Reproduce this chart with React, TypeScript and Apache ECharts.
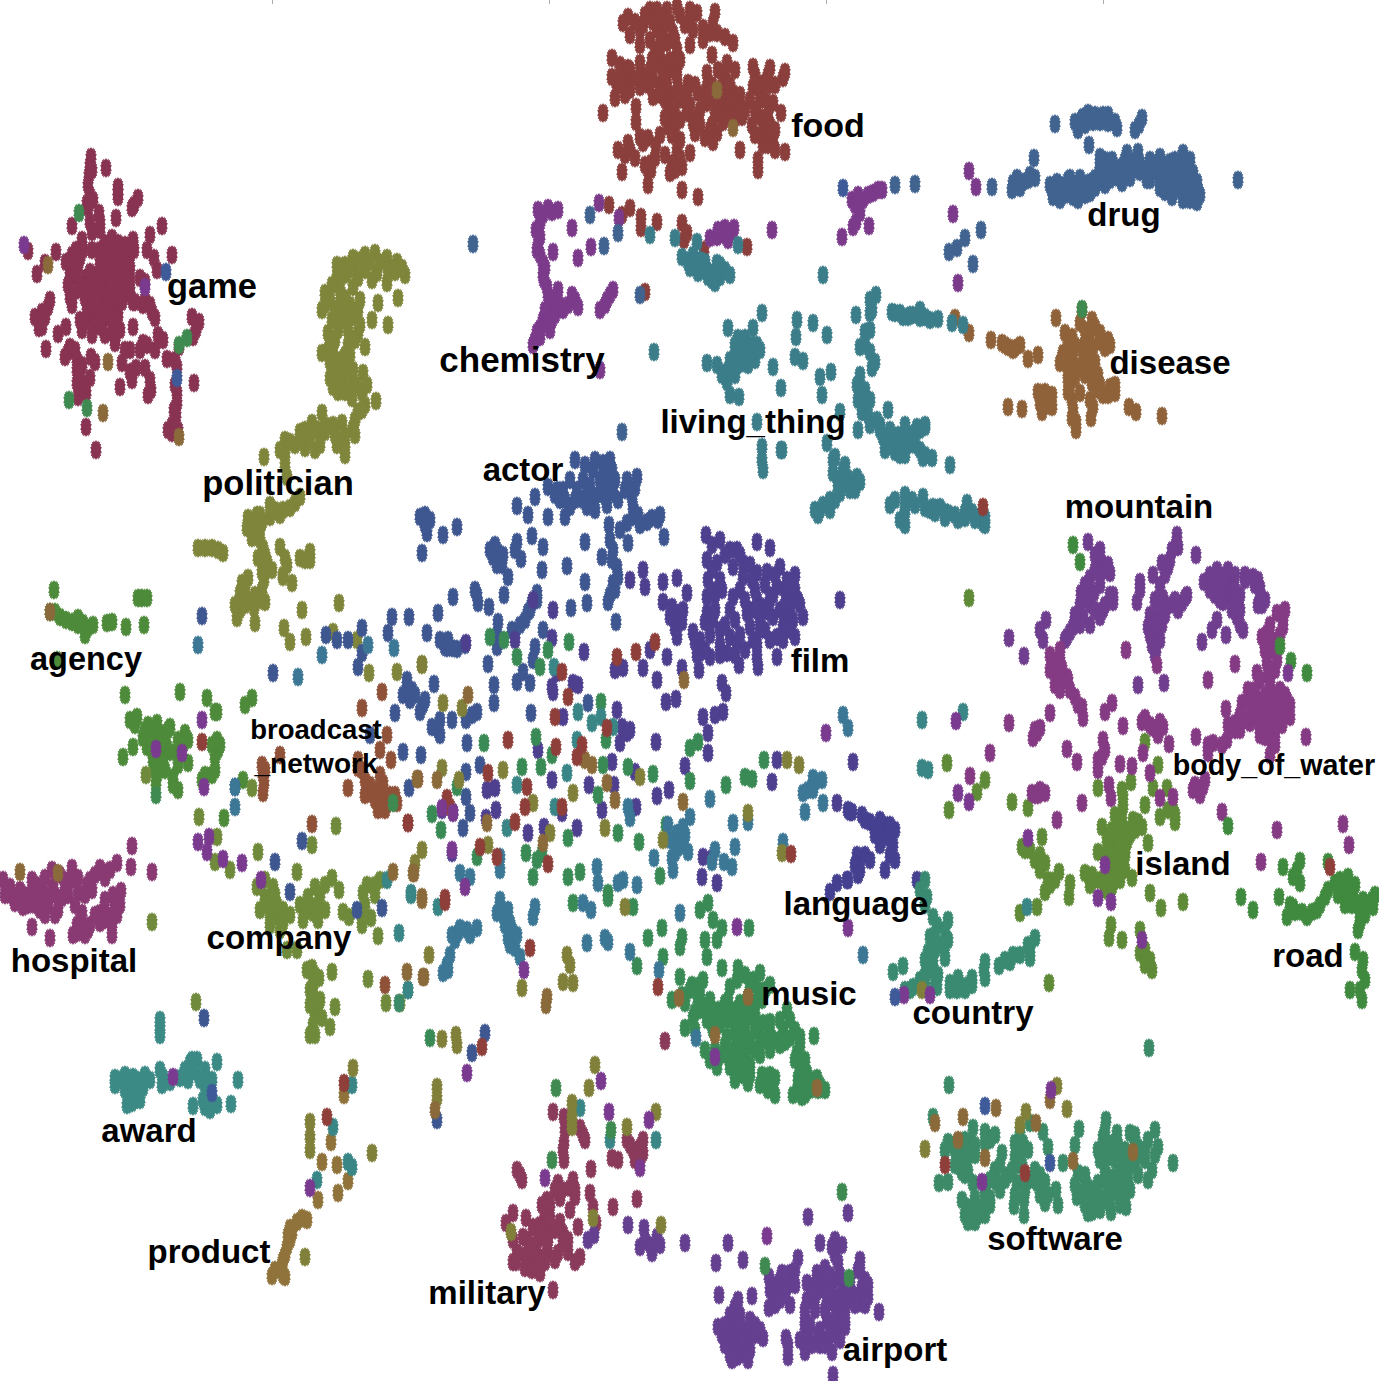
import React, { useEffect, useRef } from "react";
import * as echarts from "echarts";

const game = [[91,157],[90,165],[89,175],[88,185],[106,168],[118,187],[118,197],[134,205],[138,198],[132,208],[87,203],[88,208],[99,213],[90,222],[116,218],[72,226],[162,226],[150,235],[100,230],[82,240],[83,250],[112,238],[105,243],[118,243],[125,245],[133,240],[134,250],[100,250],[110,250],[120,252],[130,255],[92,250],[72,255],[80,258],[70,265],[78,265],[108,260],[116,260],[125,262],[130,268],[70,275],[76,278],[85,278],[95,275],[105,270],[115,270],[125,275],[85,288],[95,288],[105,282],[115,282],[125,285],[90,298],[103,298],[115,292],[125,295],[113,305],[118,315],[108,310],[88,310],[96,315],[106,318],[116,325],[140,278],[157,270],[172,255],[147,250],[154,258],[133,243],[56,252],[28,251],[45,263],[37,274],[72,305],[70,297],[48,307],[45,317],[35,317],[39,328],[58,334],[66,327],[46,349],[70,347],[65,357],[91,357],[77,360],[77,370],[77,383],[78,397],[90,378],[86,393],[86,427],[96,450],[115,343],[122,363],[132,380],[130,350],[120,387],[145,368],[143,343],[133,327],[155,350],[163,340],[167,359],[151,390],[179,347],[193,337],[192,317],[199,322],[177,367],[177,393],[177,403],[175,423],[172,433],[194,383],[152,312],[143,305],[133,302],[82,330],[90,317],[100,327],[113,333],[117,317],[117,300],[87,307],[145,282],[148,395]];
const gameFill = [[100,262],[110,265],[120,265],[90,272],[100,280],[110,276],[120,278],[130,280],[80,285],[92,283],[100,290],[110,290],[120,290],[130,290],[85,298],[95,305],[110,300],[122,302],[100,310],[112,320],[120,330],[115,338],[135,302],[145,300],[150,305],[155,318],[85,322],[95,325],[105,335],[92,335],[80,320],[75,350],[68,352],[82,365],[95,362],[80,375],[85,387],[80,392],[140,350],[147,345],[125,350],[150,380],[130,372],[136,368],[92,170],[90,195],[93,200],[118,192],[100,222],[92,232],[40,320],[42,312],[50,300],[42,327],[175,360],[175,385],[174,410],[176,415],[178,430],[168,430],[172,425],[158,335],[196,330],[76,250],[72,268],[66,262],[68,285],[78,290],[72,296]];
const food = [[628,17],[623,23],[647,17],[657,10],[667,10],[677,7],[690,10],[697,13],[693,30],[703,40],[713,23],[710,33],[725,37],[733,43],[640,30],[657,30],[673,33],[667,43],[677,50],[660,57],[670,60],[677,67],[612,58],[612,77],[623,73],[633,78],[640,63],[630,90],[640,87],[615,98],[603,113],[636,107],[636,122],[652,60],[653,80],[653,97],[667,85],[677,77],[688,83],[687,93],[698,93],[707,73],[707,87],[715,100],[725,73],[727,63],[723,83],[733,93],[753,67],[753,87],[768,75],[763,83],[783,78],[760,100],[760,117],[763,130],[773,140],[773,103],[781,113],[768,133],[785,152],[758,160],[758,170],[742,117],[740,150],[668,110],[673,117],[668,127],[687,113],[693,123],[695,133],[707,103],[723,107],[727,117],[717,133],[713,142],[618,150],[628,143],[635,158],[640,137],[648,138],[656,145],[622,172],[651,163],[648,170],[648,185],[677,150],[672,163],[670,173],[682,167],[690,153],[682,190],[698,197],[609,205],[630,208],[622,215],[641,217],[641,228],[657,222],[682,223],[684,240],[687,233],[704,250],[747,247],[645,292]];
const foodFill = [[635,22],[643,25],[650,10],[653,22],[663,20],[670,22],[680,15],[685,25],[663,32],[650,40],[660,45],[640,45],[630,35],[703,28],[715,12],[717,33],[670,70],[680,60],[690,45],[663,75],[643,75],[625,85],[620,65],[617,85],[628,68],[660,85],[640,77],[650,70],[672,95],[695,85],[705,95],[712,85],[725,95],[715,115],[730,105],[735,110],[665,100],[675,105],[680,120],[700,110],[695,118],[755,110],[752,125],[770,125],[763,145],[775,130],[760,90],[775,85],[770,68],[740,95],[723,122],[710,130],[705,138],[660,135],[680,140],[665,155],[680,158],[675,170],[643,143],[625,155],[630,150],[651,170],[655,158],[645,165]];
const foodFill2 = [[720,90],[733,100],[740,105],[725,115],[735,118],[745,110],[750,100],[768,115],[765,100],[755,135],[768,145],[775,150],[645,15],[660,15],[690,20],[675,40],[655,50],[655,65],[665,65],[648,85],[620,80],[630,70],[625,95],[660,95],[665,75],[678,88],[683,100],[690,105],[700,125],[665,118],[675,125],[672,135],[712,125],[730,85],[735,70],[718,70],[712,55],[770,85],[785,72],[755,75]];
const chemistry = [[538,210],[548,208],[558,210],[540,223],[540,237],[537,250],[543,263],[543,275],[547,287],[550,300],[558,290],[563,310],[575,300],[578,307],[543,320],[550,330],[540,337],[533,345],[553,252],[572,228],[578,258],[591,247],[599,203],[619,218],[772,230],[607,300],[613,290],[600,370],[723,235],[717,237],[710,238],[732,232],[852,200],[863,200],[873,193],[882,190],[860,213],[853,227],[842,237],[869,226],[969,171],[976,187],[953,214],[958,283]];
const chemistryFill = [[543,215],[552,212],[536,230],[538,245],[540,255],[545,268],[544,280],[548,295],[553,305],[556,298],[560,305],[568,305],[572,295],[545,310],[548,322],[540,328],[535,340],[537,332],[555,315],[552,320],[600,310],[610,295],[605,305],[855,205],[858,195],[868,195],[878,190],[856,222],[725,228],[728,240],[718,230],[734,228]];
const drug = [[1055,124],[1080,122],[1083,117],[1078,130],[1093,122],[1103,120],[1108,123],[1117,128],[1139,125],[1089,145],[1034,158],[1100,157],[1112,160],[1127,153],[1138,152],[1150,160],[1160,157],[1170,162],[1183,153],[1190,160],[1180,167],[1193,173],[1187,180],[1198,190],[1183,200],[1197,202],[1172,197],[1160,188],[1147,180],[1133,170],[1122,183],[1120,167],[1107,173],[1097,183],[1083,183],[1090,193],[1073,197],[1053,197],[1057,182],[1068,180],[1063,190],[1013,183],[1023,182],[1035,178],[992,187],[1167,173],[1140,163],[1238,180],[965,238],[957,248],[949,252],[973,264],[981,230],[895,185],[915,184],[618,233],[590,215],[604,246],[473,244],[622,432],[640,295]];
const drugFill = [[1065,195],[1078,188],[1090,182],[1072,185],[1058,193],[1050,185],[1060,200],[1075,190],[1085,195],[1100,170],[1105,185],[1115,172],[1125,160],[1130,178],[1140,172],[1150,172],[1158,172],[1175,175],[1185,165],[1190,185],[1175,185],[1195,195],[1165,185],[1128,165],[1105,160],[1100,165],[1150,180],[1187,192],[1017,178],[1028,180],[1020,188],[1030,175],[1012,190],[1085,125],[1075,122],[1088,113],[1108,115],[1100,122],[1115,122],[1135,130],[1142,118],[1095,178],[1200,195],[1197,182],[1190,200]];
const drugFill2 = [[1070,178],[1080,178],[1088,188],[1100,180],[1110,180],[1118,178],[1130,165],[1125,175],[1135,160],[1148,170],[1155,165],[1165,165],[1175,160],[1178,178],[1185,175],[1192,178],[1188,170],[1180,190],[1170,180],[1165,192],[1160,182],[1145,172],[1105,170],[1095,188],[1060,185],[1052,190],[1066,188],[1078,200],[1120,175],[1110,165],[1082,118],[1095,115],[1103,115]];
const disease = [[1056,318],[1082,310],[1080,323],[1092,320],[1065,333],[1072,337],[1090,333],[1100,333],[1108,340],[1093,347],[1063,353],[1060,363],[1073,353],[1083,353],[1090,367],[1068,373],[1077,367],[1092,383],[1068,392],[1080,393],[1110,387],[1115,393],[1103,395],[1093,407],[1091,418],[1073,410],[1076,430],[1045,392],[1052,395],[1040,403],[1052,407],[1042,412],[1008,407],[1022,409],[991,340],[1002,343],[1008,347],[1020,345],[1028,359],[1038,355],[969,333],[955,318],[1129,407],[1136,412],[1162,416]];
const diseaseFill = [[1085,330],[1095,327],[1084,345],[1100,342],[1088,360],[1075,345],[1068,345],[1085,375],[1098,375],[1062,358],[1070,362],[1075,378],[1095,362],[1105,348],[1110,345],[1083,370],[1090,400],[1100,385],[1108,395],[1098,390],[1115,385],[1072,400],[1070,385],[1068,380],[1015,348],[1005,345],[1013,350],[1048,395],[1038,392],[1048,405],[1043,405],[1076,422],[1072,418]];
const livingThing = [[762,313],[728,328],[753,328],[738,338],[747,347],[737,353],[753,353],[730,360],[743,363],[707,363],[717,365],[727,382],[773,367],[781,388],[739,397],[797,320],[796,337],[795,357],[803,361],[813,323],[827,335],[820,377],[831,372],[822,395],[757,422],[840,412],[858,430],[762,447],[781,450],[876,295],[870,313],[856,315],[865,332],[860,347],[870,352],[875,362],[892,312],[903,317],[913,315],[860,375],[865,390],[862,412],[877,420],[888,410],[883,437],[897,443],[907,433],[917,427],[827,443],[835,457],[762,460],[763,470],[782,450],[833,460],[833,473],[843,470],[850,483],[840,493],[830,500],[820,510],[857,477],[925,317],[938,319],[952,323],[963,325],[925,427],[923,458],[932,458],[950,465],[923,497],[933,507],[948,513],[940,507],[967,503],[977,517],[983,523],[905,440],[895,452],[905,495],[905,512],[915,505],[905,525],[890,505],[682,257],[690,260],[698,267],[707,270],[717,263],[708,277],[720,277],[697,242],[675,238],[650,235],[738,245],[823,275],[654,352]];
const livingThingFill = [[740,345],[745,355],[752,345],[735,345],[745,338],[750,360],[755,360],[732,365],[722,375],[725,372],[730,395],[735,375],[865,345],[870,330],[872,310],[870,300],[872,368],[857,385],[870,400],[858,400],[870,425],[880,430],[893,437],[905,425],[920,430],[885,450],[900,455],[890,445],[915,445],[920,450],[925,455],[905,455],[843,485],[850,490],[838,480],[845,475],[855,490],[830,510],[823,505],[900,520],[912,500],[925,508],[935,513],[945,518],[958,520],[965,512],[975,520],[985,518],[900,313],[908,317],[920,318],[930,320],[920,310],[698,273],[705,262],[715,283],[725,270],[730,275],[712,280],[688,262],[693,255]];
const livingThingFill2 = [[742,350],[735,358],[728,372],[738,365],[748,365],[757,345],[760,350],[895,313],[910,315],[862,405],[868,415],[880,425],[890,430],[898,435],[908,445],[900,445],[915,432],[925,425],[845,465],[838,488],[848,478],[860,482],[835,500],[828,505],[818,515],[815,510],[905,505],[895,500],[930,510],[945,512],[955,515],[965,518],[972,512],[985,525],[700,270],[710,272],[720,265],[690,268],[700,260]];
const politician = [[337,265],[337,277],[353,258],[365,255],[375,253],[387,258],[397,262],[405,275],[365,270],[377,273],[387,283],[398,298],[325,293],[322,310],[340,290],[353,287],[340,303],[360,300],[378,303],[372,320],[388,325],[353,317],[358,333],[365,347],[328,333],[322,353],[333,350],[337,367],[333,387],[343,380],[353,370],[363,373],[362,393],[376,401],[358,412],[353,428],[322,413],[312,423],[333,425],[342,423],[343,440],[345,455],[307,440],[315,450],[285,440],[285,455],[264,457],[287,477],[295,503],[283,510],[270,517],[257,515],[248,518],[260,528],[252,538],[263,548],[267,562],[280,547],[285,558],[283,575],[305,560],[310,560],[198,548],[212,548],[223,553],[242,583],[240,593],[255,595],[254,608],[265,602],[264,580],[283,577],[292,583],[237,618],[255,623],[302,610],[284,628],[290,642],[306,637],[339,603],[333,632],[357,640],[369,673],[397,672],[422,665]];
const politicianFill = [[345,265],[355,265],[365,262],[380,262],[392,268],[345,275],[358,278],[372,280],[330,300],[332,285],[345,298],[350,305],[358,310],[332,320],[335,312],[338,330],[348,345],[350,355],[330,342],[330,362],[340,360],[345,370],[330,378],[338,392],[350,385],[357,385],[367,385],[365,405],[355,420],[318,430],[325,425],[305,448],[295,445],[300,440],[310,435],[337,445],[345,435],[280,450],[285,465],[275,510],[262,522],[290,508],[300,497],[253,530],[260,540],[265,555],[272,570],[287,565],[205,548],[218,550],[310,552],[300,558],[245,600],[240,610],[260,600],[245,590],[235,605],[248,578]];
const politicianFill2 = [[340,270],[350,270],[360,260],[370,262],[388,270],[395,272],[402,268],[325,305],[340,315],[345,320],[348,330],[355,340],[360,325],[345,310],[335,340],[328,350],[345,355],[335,375],[345,392],[352,398],[362,410],[355,435],[325,432],[315,430],[305,430],[300,432],[290,442],[320,445],[335,435],[345,445],[270,505],[280,515],[260,515],[247,528],[255,520],[258,558],[262,572],[245,605],[252,600],[262,590]];
const agency = [[54,590],[50,612],[60,617],[72,622],[83,623],[88,628],[107,623],[112,622],[126,627],[144,625],[142,598],[147,598],[57,660],[125,695],[180,692],[207,698],[217,712],[137,717],[145,730],[157,723],[170,727],[133,747],[123,757],[147,747],[157,740],[167,747],[153,760],[163,760],[177,753],[185,733],[188,763],[156,783],[178,790],[173,777],[202,780],[217,740],[215,757],[215,770],[218,750],[224,818],[252,698],[245,705],[243,780]];
const agencyFill = [[55,612],[66,620],[78,625],[85,635],[78,618],[93,625],[138,598],[148,725],[150,735],[160,733],[165,735],[152,750],[158,752],[143,738],[135,725],[130,720],[178,740],[170,752],[183,745],[178,765],[173,785],[205,775],[212,775],[212,745],[220,745],[215,712],[155,770],[157,775],[160,745],[168,730],[165,770],[188,740]];
const broadcastNetwork = [[362,708],[382,692],[387,735],[380,750],[358,760],[362,770],[391,760],[348,788],[370,793],[375,800],[383,783],[397,803],[388,803],[408,823],[418,779],[280,755],[265,770],[264,783],[263,793],[312,824],[385,985],[365,795],[375,790],[378,810],[385,810],[370,785],[380,800],[390,795],[365,780],[358,768],[380,775],[395,795],[383,790],[263,775],[262,765]];
const hospital = [[3,880],[10,887],[5,895],[17,895],[15,903],[32,880],[32,893],[23,907],[42,890],[40,910],[52,870],[53,887],[58,910],[65,890],[72,868],[78,878],[78,893],[87,885],[100,868],[103,872],[117,863],[131,867],[132,846],[152,872],[121,891],[105,900],[115,903],[117,915],[100,913],[112,935],[82,913],[82,927],[77,933],[88,930],[50,938],[32,927],[100,923]];
const hospitalFill = [[10,895],[20,890],[25,895],[37,885],[38,900],[47,895],[55,895],[62,898],[28,905],[35,905],[48,905],[68,895],[72,880],[85,895],[92,890],[105,878],[110,870],[95,875],[90,880],[65,880],[75,905],[108,915],[112,925],[105,920],[80,920],[90,925],[95,915],[77,925],[73,935],[85,935],[120,905],[113,895],[55,915],[45,915],[27,900],[60,875],[45,878]];
const company = [[257,887],[265,897],[260,910],[272,903],[277,917],[283,910],[283,923],[273,887],[315,887],[308,897],[303,920],[313,913],[325,910],[332,878],[339,890],[343,912],[297,872],[258,852],[312,845],[336,826],[349,917],[367,885],[375,885],[363,893],[362,925],[371,918],[378,936],[287,950],[297,950],[313,980],[310,990],[319,978],[332,972],[312,1000],[315,1013],[318,1010],[335,1007],[313,1025],[330,1027],[368,979],[386,1003],[400,1003],[196,1002],[199,817],[215,862],[230,870],[217,837],[252,788],[152,922],[146,775]];
const companyFill = [[265,905],[270,915],[277,905],[270,925],[280,930],[290,915],[275,895],[265,880],[310,905],[320,895],[325,885],[318,920],[300,905],[305,912],[318,905],[375,895],[365,905],[380,880],[362,915],[313,990],[312,968],[315,975],[307,970],[310,1005],[320,1000],[322,1018],[310,1035],[315,1035]];
const film = [[706,535],[720,540],[730,550],[707,560],[717,563],[737,550],[757,542],[770,548],[733,567],[743,563],[757,573],[767,572],[780,567],[795,575],[787,580],[777,587],[790,597],[798,600],[803,617],[793,620],[795,637],[783,627],[773,617],[777,637],[763,607],[757,600],[747,613],[750,627],[740,590],[743,577],[720,580],[722,590],[708,580],[707,597],[707,613],[713,620],[720,630],[733,597],[730,637],[737,643],[727,653],[739,665],[753,640],[757,657],[758,667],[777,657],[710,657],[700,653],[699,670],[693,632],[678,613],[670,617],[683,610],[675,628],[677,637],[687,593],[677,578],[663,582],[645,587],[643,570],[630,580],[840,600],[650,650],[667,657],[643,668],[623,668],[615,670],[657,680],[682,668],[722,683],[726,693],[666,702],[676,699],[723,712],[703,717],[715,715],[708,733],[708,753],[685,766],[553,692],[552,687],[557,673],[573,683],[578,685],[563,717],[617,710],[622,727],[627,733],[620,743],[630,730],[656,742],[612,762],[635,772],[589,785],[552,780],[614,785],[657,796],[669,790],[636,807],[602,810],[562,813],[577,828],[544,827],[528,833],[538,750],[487,790],[495,788],[496,810],[486,818],[442,810],[453,812],[452,853],[703,857],[702,877],[712,858],[717,883],[772,782],[777,760],[853,762],[850,812],[837,803],[533,600],[553,610],[552,638],[584,652],[515,640],[466,643]];
const filmFill = [[712,545],[725,555],[740,555],[750,565],[755,590],[765,585],[775,575],[785,590],[770,600],[780,610],[785,620],[760,620],[765,630],[770,640],[783,640],[790,610],[800,605],[790,630],[745,600],[735,620],[712,570],[715,595],[730,610],[715,610],[720,645],[725,625],[750,610],[740,635],[745,650],[735,655],[720,655],[705,650],[710,635],[700,640],[712,590],[755,610],[768,612],[773,595],[785,605],[752,580],[760,630],[757,645],[795,590],[697,655],[705,622],[695,642],[682,622],[672,607],[663,602]];
const actor = [[575,460],[593,470],[603,463],[610,460],[583,480],[600,480],[610,477],[613,493],[600,493],[587,493],[577,490],[563,490],[560,500],[570,507],[565,517],[587,507],[548,487],[535,497],[528,515],[517,506],[548,517],[627,480],[637,477],[632,497],[633,507],[638,515],[652,518],[647,522],[627,523],[609,525],[610,540],[628,543],[664,537],[613,550],[617,567],[613,583],[608,602],[616,622],[602,557],[585,542],[532,536],[543,547],[517,542],[515,550],[521,559],[498,552],[493,557],[502,565],[508,577],[542,570],[567,566],[585,582],[587,603],[571,608],[537,593],[532,603],[525,620],[475,590],[478,603],[489,607],[504,595],[453,597],[438,613],[409,617],[427,633],[445,647],[457,649],[498,622],[497,647],[512,630],[535,647],[533,660],[543,630],[488,664],[517,682],[523,672],[530,683],[494,685],[494,703],[434,684],[407,688],[412,690],[423,705],[440,720],[438,730],[466,720],[477,712],[467,743],[531,713],[588,703],[403,752],[421,755],[409,788],[466,772],[480,765],[466,797],[470,813],[463,828],[425,515],[427,533],[443,535],[457,527],[422,553],[202,616],[273,673],[235,787],[302,841],[275,862],[290,892],[357,910],[382,908],[392,617],[388,633],[348,640],[362,628],[362,653],[358,667],[337,640],[326,635],[447,648],[370,735],[395,713],[204,1018],[485,1033],[472,1053],[437,1120]];
const actorFill = [[585,465],[595,460],[603,475],[612,470],[590,485],[605,487],[595,497],[607,505],[595,510],[615,480],[575,500],[583,500],[570,480],[555,495],[565,500],[557,490],[618,500],[605,497],[625,490],[635,488],[633,517],[640,525],[658,520],[660,515],[620,530],[612,560],[618,577],[615,590],[610,595],[495,545],[490,550],[497,565],[503,555],[477,595],[530,610],[537,600],[528,612],[515,632],[520,625],[500,640],[497,635],[448,640],[452,648],[440,640],[465,645],[407,680],[403,695],[415,695],[410,700],[420,712],[425,700],[432,727],[452,720],[472,715],[440,735],[420,517],[430,520],[425,525]];
const language = [[837,883],[847,880],[830,892],[852,812],[865,820],[875,828],[885,825],[895,830],[880,845],[890,855],[865,855],[860,870],[885,870],[895,860],[917,880],[857,855],[870,822],[880,830],[888,838],[893,845],[870,860],[855,865],[848,880],[858,875],[875,835],[880,820],[862,815],[848,810],[890,825]];
const music = [[692,985],[703,980],[700,997],[705,1007],[685,1003],[672,1000],[693,1018],[685,1028],[707,1020],[713,1030],[705,1050],[717,1067],[730,1067],[725,1003],[730,987],[737,980],[753,980],[760,973],[748,997],[740,1003],[748,1017],[740,1030],[757,1030],[763,1023],[727,1037],[737,1043],[748,1047],[760,1040],[740,1060],[770,1050],[770,1033],[783,1030],[787,1010],[800,1037],[797,1053],[814,1036],[748,1083],[767,1083],[773,1090],[798,1087],[802,1097],[807,1073],[817,1078],[825,1090],[818,1090],[573,903],[608,898],[633,907],[662,928],[648,938],[680,947],[682,937],[637,966],[663,957],[700,910],[708,903],[713,920],[705,940],[717,940],[722,928],[707,957],[722,968],[749,928],[738,968],[680,977],[430,1038],[490,637],[504,640],[517,657],[548,650],[569,642],[540,667],[601,702],[606,740],[484,743],[536,737],[552,755],[541,767],[522,767],[457,787],[432,814],[441,830],[526,853],[537,860],[542,853],[568,838],[580,872],[568,877],[618,833],[639,842],[598,795],[603,765],[628,767],[653,774],[690,748],[698,742],[690,781],[726,785],[745,777],[752,779],[764,760],[666,825],[660,876],[477,857],[533,877],[608,893]];
const musicFill = [[745,1005],[745,1025],[735,1020],[755,1015],[755,1050],[745,1055],[735,1055],[750,1065],[750,1040],[740,1045],[765,1040],[725,1045],[735,1032],[728,1020],[712,1025],[700,1010],[695,1030],[700,985],[720,1025],[710,1000],[775,1040],[780,1045],[795,1030],[790,1038],[805,1060],[800,1065],[810,1090],[805,1085],[815,1085],[793,1095],[768,1090],[762,1075],[775,1078],[755,1003],[765,990],[750,985],[745,975],[728,1000],[718,1010],[745,1065],[735,1070],[710,1060],[800,1045],[812,1082]];
const musicFill2 = [[690,990],[682,995],[698,1000],[695,1012],[710,1015],[720,1015],[730,1012],[735,1010],[740,1015],[748,1008],[730,1050],[745,1035],[755,1030],[760,1055],[750,1075],[730,1060],[722,1055],[715,1050],[770,1022],[780,1020],[785,1042],[790,1020],[762,1000],[770,985],[758,990],[795,1060],[800,1075],[810,1080],[820,1085],[805,1095],[798,1078],[770,1075],[760,1085],[775,1095],[742,1075],[735,1080]];
const tealBlue = [[500,900],[497,913],[508,910],[510,923],[508,938],[515,948],[520,957],[535,907],[533,917],[458,933],[467,930],[477,928],[455,940],[447,965],[443,973],[587,943],[583,903],[591,910],[605,938],[608,942],[630,952],[659,970],[680,913],[696,1038],[863,955],[628,807],[630,818],[677,833],[670,840],[683,827],[690,817],[675,853],[688,852],[673,870],[654,858],[710,799],[733,823],[748,822],[735,847],[715,850],[712,862],[724,862],[732,867],[803,793],[813,778],[822,780],[808,790],[805,812],[823,803],[783,842],[843,715],[848,728],[597,867],[598,883],[623,880],[637,885],[618,883],[460,873],[470,877],[500,857],[500,870],[235,787],[235,807],[198,645],[298,677],[322,655],[368,645],[394,648],[455,935],[447,967],[505,925],[512,930],[500,908],[510,945],[517,935],[503,915],[452,935],[470,935],[460,928],[450,955],[448,970],[813,790],[815,782],[680,845],[685,835],[668,825],[678,848],[672,858],[684,842]];
const teal = [[554,667],[578,712],[601,717],[592,723],[577,740],[567,773],[517,785],[613,727],[555,807],[507,828],[438,907],[387,880],[411,895],[399,933],[408,990],[411,893],[656,1140],[610,1140],[333,1127],[317,1180],[348,1162],[352,1167],[352,1085],[580,1108],[1027,907],[963,712],[922,768],[928,770],[922,720]];
const military = [[553,1112],[564,1117],[580,1128],[585,1140],[564,1143],[564,1160],[591,1169],[517,1170],[522,1180],[558,1183],[573,1180],[575,1197],[547,1200],[545,1213],[590,1193],[593,1207],[596,1223],[560,1198],[570,1210],[513,1213],[506,1223],[526,1218],[533,1227],[548,1227],[563,1233],[578,1227],[547,1243],[533,1247],[517,1252],[513,1262],[532,1263],[540,1257],[548,1253],[558,1253],[568,1252],[580,1257],[532,1270],[540,1273],[553,1290],[523,1237],[563,1243],[613,1207],[637,1199],[612,1158],[618,1160],[627,1140],[633,1150],[640,1147],[643,1153],[665,1041]];
const militaryFill = [[555,1190],[562,1190],[570,1188],[575,1190],[550,1205],[542,1205],[555,1230],[540,1225],[538,1240],[548,1240],[560,1222],[550,1218],[542,1232],[525,1255],[525,1268],[545,1262],[555,1260],[575,1262],[568,1240],[528,1240],[563,1150],[565,1130],[583,1135],[635,1160],[640,1160],[643,1140],[630,1145],[520,1175],[540,1268],[535,1255],[516,1262],[513,1240]];
const airport = [[848,1213],[808,1217],[835,1240],[835,1255],[820,1243],[798,1258],[728,1243],[743,1260],[716,1263],[769,1277],[782,1273],[790,1273],[778,1287],[773,1297],[787,1287],[807,1283],[807,1300],[817,1273],[825,1268],[815,1297],[835,1280],[843,1287],[837,1297],[827,1303],[827,1320],[837,1317],[845,1310],[845,1327],[827,1340],[858,1270],[862,1287],[868,1297],[860,1303],[879,1312],[719,1295],[752,1296],[769,1308],[790,1305],[735,1307],[737,1320],[750,1320],[718,1327],[727,1337],[737,1337],[748,1335],[763,1338],[757,1333],[735,1350],[745,1352],[737,1357],[786,1338],[788,1357],[805,1327],[807,1343],[805,1352],[833,1375],[628,1225],[644,1228],[640,1247],[652,1253],[657,1237],[685,1243],[594,1235],[588,1240]];
const airportFill = [[780,1280],[790,1282],[795,1270],[785,1295],[775,1305],[815,1285],[820,1290],[830,1285],[840,1275],[845,1295],[850,1290],[850,1280],[830,1295],[835,1305],[840,1325],[830,1330],[820,1330],[835,1335],[820,1345],[855,1305],[865,1280],[860,1260],[865,1305],[733,1330],[740,1345],[730,1345],[745,1345],[755,1325],[740,1315],[730,1315],[722,1335],[738,1300],[745,1330],[750,1350],[730,1355],[805,1320],[808,1337],[842,1245],[832,1247],[660,1245],[645,1240],[650,1245]];
const airportFill2 = [[775,1285],[785,1275],[795,1285],[770,1290],[780,1300],[812,1290],[825,1280],[830,1275],[828,1295],[840,1300],[825,1310],[815,1310],[835,1320],[845,1320],[850,1300],[855,1295],[832,1352],[825,1345],[818,1335],[840,1340],[730,1325],[725,1325],[740,1325],[733,1345],[755,1335],[760,1330],[745,1340],[740,1355],[732,1360],[748,1360],[725,1345],[805,1310],[800,1340],[812,1345],[810,1325],[788,1345],[860,1270],[868,1285],[838,1262]];
const software = [[949,1085],[933,1117],[948,1142],[958,1142],[973,1128],[987,1137],[970,1143],[960,1153],[967,1160],[960,1167],[939,1183],[948,1182],[1002,1153],[995,1170],[997,1183],[1008,1175],[973,1183],[968,1207],[975,1213],[983,1207],[975,1198],[973,1220],[1014,1206],[1024,1200],[1024,1215],[1015,1143],[1023,1143],[1015,1157],[1017,1183],[1037,1183],[1043,1190],[1045,1203],[1058,1205],[1056,1190],[1043,1132],[1030,1123],[1048,1147],[1063,1163],[1075,1145],[1079,1129],[1078,1173],[1080,1193],[1077,1197],[1088,1213],[1088,1187],[1098,1183],[1100,1197],[1111,1212],[1113,1177],[1113,1193],[1126,1207],[1130,1190],[1127,1173],[1128,1157],[1130,1133],[1138,1147],[1148,1140],[1155,1130],[1158,1147],[1152,1170],[1148,1180],[1173,1163],[1106,1120],[1105,1147],[1117,1133],[1112,1143],[1108,1157],[1149,1048],[399,1003],[408,990]];
const softwareFill = [[965,1175],[953,1145],[965,1140],[975,1145],[962,1172],[985,1132],[990,1140],[970,1210],[980,1215],[975,1205],[985,1215],[965,1215],[990,1205],[1000,1165],[1005,1180],[990,1180],[1020,1150],[1020,1130],[1040,1195],[1030,1180],[1045,1182],[1095,1200],[1090,1195],[1085,1205],[1105,1180],[1108,1190],[1118,1185],[1120,1195],[1105,1200],[1095,1190],[1125,1195],[1122,1180],[1130,1165],[1125,1150],[1135,1165],[1140,1155],[1145,1150],[1155,1155],[1135,1135],[1103,1137],[1110,1150],[1118,1145],[1115,1160],[1085,1180],[1075,1185],[1028,1180],[1025,1190]];
const softwareFill2 = [[955,1150],[945,1150],[965,1150],[955,1165],[975,1155],[968,1172],[985,1143],[995,1135],[1018,1165],[1012,1170],[1028,1150],[1022,1165],[1015,1195],[993,1178],[1000,1190],[985,1190],[990,1198],[962,1200],[985,1198],[975,1222],[968,1222],[1035,1170],[1040,1175],[1048,1195],[1085,1175],[1095,1205],[1100,1210],[1110,1205],[1120,1205],[1092,1212],[1105,1170],[1120,1170],[1128,1180],[1125,1165],[1120,1160],[1138,1175],[1135,1145],[1145,1160],[1105,1130],[1098,1150],[1100,1160]];
const country = [[937,925],[945,930],[930,937],[948,940],[928,952],[945,958],[933,963],[938,975],[937,987],[893,972],[903,966],[913,987],[905,990],[922,988],[950,983],[960,985],[968,985],[972,978],[984,970],[999,966],[1010,962],[1013,955],[1030,950],[1035,938],[933,917],[927,897],[935,935],[940,945],[935,950],[945,945],[925,960],[930,970],[935,985],[925,985],[920,980],[910,990],[950,990],[958,978],[965,990],[957,990],[972,985],[985,962],[985,978],[1005,960],[1028,945],[1030,958],[1020,955],[925,975],[948,920],[920,890],[925,905],[925,880]];
const island = [[1102,827],[1112,830],[1123,807],[1122,820],[1133,820],[1142,827],[1117,842],[1127,842],[1107,840],[1098,852],[1117,857],[1123,863],[1110,877],[1112,887],[1100,880],[1090,885],[1085,873],[1132,878],[1148,843],[1145,805],[1160,817],[1173,810],[1175,822],[1167,788],[1153,788],[1131,782],[1098,788],[1123,797],[1111,925],[1109,938],[1122,940],[1140,930],[1140,953],[1147,960],[1152,970],[1150,893],[1161,908],[1183,902],[1022,847],[1030,850],[1035,860],[1042,837],[1045,863],[1048,880],[1045,892],[1059,872],[1037,907],[1020,913],[1070,883],[1069,897],[1049,983],[1028,808],[1012,802],[985,780],[977,792],[949,810],[947,763],[969,598],[1158,765],[1145,742]];
const islandFill = [[1110,835],[1118,830],[1125,835],[1128,830],[1110,850],[1105,855],[1125,855],[1115,865],[1118,850],[1112,870],[1105,880],[1125,870],[1120,880],[1115,880],[1105,890],[1092,875],[1095,880],[1138,822],[1118,820],[1115,815],[1122,790],[1175,815],[1168,810],[1145,950],[1145,965],[1150,960],[1025,850],[1040,855],[1050,885],[1040,870],[1055,880],[1118,870],[1108,865],[1130,835],[1120,845],[1125,850],[1135,830]];
const mountain = [[1177,535],[1178,547],[1168,567],[1162,563],[1153,575],[1196,555],[1100,550],[1088,542],[1102,563],[1110,573],[1090,578],[1100,573],[1081,593],[1094,593],[1080,605],[1113,602],[1103,610],[1100,617],[1083,617],[1073,627],[1067,637],[1046,620],[1043,640],[1009,638],[1024,656],[1140,582],[1137,602],[1163,598],[1182,603],[1187,595],[1148,627],[1162,625],[1157,617],[1157,640],[1156,650],[1138,685],[1164,683],[1204,582],[1217,570],[1223,580],[1215,595],[1233,580],[1237,600],[1223,602],[1237,617],[1217,620],[1212,630],[1253,577],[1260,588],[1258,605],[1243,630],[1226,635],[1202,642]];
const mountainFill = [[1095,555],[1105,570],[1085,585],[1082,600],[1105,605],[1110,595],[1090,625],[1080,625],[1070,632],[1075,615],[1040,630],[1176,545],[1165,575],[1160,585],[1158,600],[1155,630],[1150,635],[1160,640],[1155,655],[1215,580],[1228,590],[1225,580],[1228,570],[1210,590],[1240,610],[1232,600],[1245,575],[1265,600],[1258,580],[1260,595],[1165,615],[1150,615],[1220,600],[1240,595],[1185,598],[1178,610]];
const mountainFill2 = [[1075,622],[1065,640],[1090,605],[1087,590],[1100,585],[1108,565],[1095,570],[1172,550],[1170,560],[1155,600],[1160,610],[1155,625],[1152,645],[1225,575],[1235,575],[1218,585],[1220,595],[1235,590],[1245,580],[1255,585],[1262,605],[1232,610],[1210,575],[1240,625],[1170,605],[1175,600],[1113,595],[1095,610],[1140,590]];
const bodyOfWater = [[1053,660],[1060,650],[1057,670],[1067,677],[1055,685],[1075,697],[1082,707],[1083,718],[1126,650],[1157,665],[1105,712],[1112,703],[1050,713],[1009,723],[1037,733],[1033,738],[1067,749],[1077,762],[990,753],[970,776],[1123,726],[1142,722],[1153,728],[1163,727],[1103,740],[1102,757],[1098,770],[1120,764],[1132,766],[1143,753],[1150,773],[1169,744],[1196,737],[1208,680],[1235,664],[1226,709],[1213,743],[1208,753],[1227,740],[1235,723],[1242,703],[1248,690],[1257,673],[1267,663],[1277,660],[1267,633],[1277,613],[1285,610],[1283,627],[1262,637],[1273,640],[1270,690],[1280,690],[1287,700],[1290,717],[1270,707],[1260,710],[1250,723],[1260,727],[1270,727],[1272,743],[1279,717],[1306,737],[1193,790],[1203,787],[1082,803],[1057,820],[1032,793],[1045,793],[1038,795],[1109,785],[1111,798],[1160,798],[1173,797],[1222,812],[1277,830],[1343,824],[1349,845],[1261,862]];
const bodyOfWaterFill = [[1060,660],[1050,670],[1062,668],[1058,680],[1070,690],[1078,705],[1268,675],[1260,680],[1255,690],[1248,700],[1240,715],[1235,730],[1228,725],[1222,745],[1270,680],[1275,695],[1265,695],[1285,695],[1280,705],[1275,715],[1265,720],[1290,705],[1282,725],[1265,737],[1275,735],[1270,755],[1275,745],[1280,635],[1270,625],[1283,618],[1272,650],[1265,650],[1258,720],[1250,715],[1208,745],[1195,785],[1200,795],[1205,780],[1035,795],[1040,790],[1150,725],[1158,735],[1145,718],[1160,722],[1105,750],[1098,760],[1035,730],[1040,728],[1262,700],[1255,705],[1268,712],[1278,705],[1275,725],[1260,735],[1245,720],[1240,730],[1285,712],[1275,670],[1265,645],[1050,655],[1068,680],[1060,690]];
const road = [[1241,897],[1253,910],[1279,897],[1283,867],[1300,861],[1293,877],[1300,883],[1328,862],[1287,917],[1293,907],[1307,917],[1317,910],[1325,897],[1335,883],[1348,877],[1342,893],[1353,893],[1363,900],[1373,907],[1360,923],[1355,952],[1362,970],[1350,990],[1362,1000],[1073,545],[1080,562],[1280,646],[1291,661],[1307,673],[1228,826],[1295,912],[1290,905],[1302,912],[1312,912],[1320,905],[1328,890],[1340,880],[1345,885],[1355,885],[1350,895],[1345,905],[1358,905],[1352,905],[1362,910],[1368,905],[1372,900],[1375,895],[1360,915],[1365,915],[1350,885],[1338,895],[1358,930],[1365,980],[1360,990],[1363,960],[1297,870]];
const award = [[160,1028],[120,1080],[133,1077],[143,1080],[143,1088],[132,1103],[163,1077],[162,1085],[188,1080],[197,1060],[190,1063],[205,1070],[217,1062],[207,1080],[238,1080],[193,1106],[207,1093],[205,1107],[217,1105],[231,1104],[128,1082],[138,1095],[115,1078],[125,1075],[115,1085],[125,1090],[135,1088],[138,1080],[145,1075],[150,1080],[135,1100],[130,1095],[127,1105],[140,1100],[160,1070],[170,1082],[180,1078],[185,1070],[192,1060],[195,1072],[200,1080],[205,1085],[208,1100],[210,1110],[203,1100],[212,1080],[160,1035],[160,1020]];
const product = [[307,1220],[297,1222],[292,1233],[287,1247],[283,1260],[285,1277],[272,1276],[318,1200],[338,1193],[331,1142],[322,1162],[337,1165],[344,1095],[348,1181],[302,1218],[290,1240],[285,1255],[282,1265],[288,1235],[283,1275],[290,1228],[275,1270]];
const olive = [[310,1122],[310,1137],[310,1150],[372,1153],[305,1257],[353,1068],[422,664],[443,703],[462,708],[442,768],[459,780],[503,770],[533,803],[550,833],[573,793],[605,828],[640,777],[663,840],[748,813],[787,760],[799,765],[782,853],[422,850],[415,863],[488,845],[567,955],[570,965],[563,982],[573,983],[522,988],[429,955],[625,907],[442,1039],[456,1035],[457,1045],[437,1087],[437,1098],[572,1103],[572,1117],[572,1127],[595,1065],[589,1088],[627,1127],[656,1112],[511,1232],[661,1225],[593,1218],[925,1149],[1067,1109],[1026,1112],[1020,1125],[1057,1086],[922,990]];
const brown = [[50,612],[468,695],[417,779],[437,780],[615,800],[607,783],[683,802],[684,680],[413,873],[422,897],[543,843],[487,823],[546,1005],[547,997],[424,977],[435,1110],[393,872],[414,873],[422,900],[407,972],[423,977],[20,872],[108,362],[103,413],[179,437],[48,265],[717,90],[733,128],[748,997],[679,998],[715,1035],[817,1088],[963,1117],[935,1123],[958,1140],[985,1158],[996,1108],[1036,1123],[1050,1100],[1073,1161],[1133,1152],[585,760],[592,765],[58,873]];
const red = [[562,672],[568,697],[555,717],[556,747],[508,740],[488,773],[527,787],[525,807],[515,822],[562,807],[447,798],[450,807],[408,823],[607,728],[480,847],[497,857],[548,864],[445,898],[636,652],[617,657],[655,642],[577,757],[582,745],[791,854],[530,948],[445,902],[658,987],[344,1083],[327,1117],[945,1165],[1025,1173],[1330,867],[983,507],[482,1047],[202,742]];
const violet = [[24,245],[145,287],[156,749],[182,753],[202,720],[204,787],[198,842],[209,837],[207,852],[223,859],[242,863],[261,880],[442,808],[453,813],[452,850],[826,733],[465,887],[524,970],[848,928],[904,995],[930,995],[737,927],[715,1057],[467,1073],[173,1077],[310,1188],[982,1182],[1051,1090],[1105,865],[1028,838],[1098,898],[1111,902],[1142,940],[1288,673],[649,1120],[640,1168],[545,1178],[958,793],[969,802],[956,721],[609,1112],[767,1236],[601,1081]];
const accents = [[69,400],[87,408],[179,345],[187,338],[79,213],[156,795],[393,803],[552,1160],[556,1088],[611,1130],[765,1266],[842,1192],[849,1278],[1082,309]];
const blueAccents = [[166,272],[177,378],[212,1093],[985,1106],[1050,1163],[895,997],[843,188]];

const labels: [string, number, number, number][] = [["food",828,125,34],["game",212,286,34.4],["drug",1124,214,33],["disease",1170,362,33],["chemistry",522,359,35],["living_thing",753,421,33],["politician",278,483,34.5],["actor",523,469,33],["mountain",1139,506,33],["agency",86,659,32.5],["film",820,660,33],["broadcast",316,729,27.5],["_network",316,763,28],["body_of_water",1274,765,28.7],["island",1183,863,33],["language",856,903,33],["hospital",74,960,33],["company",279,937,33],["road",1308,955,33],["music",809,993,33],["country",973,1012,33],["award",149,1130,33],["software",1055,1238,33],["product",209,1251,33],["military",487,1292,33],["airport",895,1349,33]];

const topTicks = [272, 549, 826, 1103];
const rightTicks = [277, 555, 834, 1111];

const markerPoints = Array.from({ length: 36 }, (_, i) => {
  const a = (i / 36) * 2 * Math.PI;
  const r = i % 2 ? 0.8 : 1;
  const sx = Math.sign(Math.sin(a)) * Math.pow(Math.abs(Math.sin(a)), 0.75);
  const sy = Math.sign(Math.cos(a)) * Math.pow(Math.abs(Math.cos(a)), 0.75);
  return `${(5.5 + 5.5 * r * sx).toFixed(2)} ${(8.5 - 8.5 * r * sy).toFixed(2)}`;
});
const marker = "path://M" + markerPoints.join("L") + "Z";

const table: [string, string, number[][]][] = [
  ["game", "#883351", [...game, ...gameFill]], ["food", "#8a3f3c", [...food, ...foodFill, ...foodFill2]], ["chemistry", "#7c3a8b", [...chemistry, ...chemistryFill]], ["drug", "#416390", [...drug, ...drugFill, ...drugFill2]],
  ["disease", "#8f623a", [...disease, ...diseaseFill]], ["living_thing", "#3c7d8a", [...livingThing, ...livingThingFill, ...livingThingFill2]], ["politician", "#7f853a", [...politician, ...politicianFill, ...politicianFill2]],
  ["agency", "#4d8a3a", [...agency, ...agencyFill]], ["broadcast_network", "#8f5239", broadcastNetwork], ["hospital", "#8a3a72", [...hospital, ...hospitalFill]],
  ["company", "#6f8a3a", [...company, ...companyFill]], ["actor", "#3f5790", [...actor, ...actorFill]], ["film", "#4f3f8f", [...film, ...filmFill]], ["language", "#45408f", language],
  ["music", "#3a8a55", [...music, ...musicFill, ...musicFill2]], ["tealBlue", "#3c7896", tealBlue], ["military", "#8a3a5a", [...military, ...militaryFill]], ["airport", "#653f90", [...airport, ...airportFill, ...airportFill2]],
  ["software", "#3c8a68", [...software, ...softwareFill, ...softwareFill2]], ["country", "#3a8a72", country], ["island", "#5f8a38", [...island, ...islandFill]], ["mountain", "#703e8e", [...mountain, ...mountainFill, ...mountainFill2]],
  ["body_of_water", "#853b83", [...bodyOfWater, ...bodyOfWaterFill]], ["road", "#408a3f", road], ["award", "#3c8a85", award], ["product", "#8f733a", product],
  ["teal", "#3a8585", teal], ["olive", "#80803a", olive], ["brown", "#8a6a3a", brown], ["red", "#8f3f3a", red], ["violet", "#7a3a90", violet],
  ["accents", "#3f8a50", accents], ["blueAccents", "#3f5a98", blueAccents],
];

export default function App() {
  const ref = useRef<HTMLDivElement>(null);
  useEffect(() => {
    document.body.style.margin = "0";
    const chart = echarts.init(ref.current!, undefined, { renderer: "svg" });
    chart.setOption({
      animation: false,
      backgroundColor: "#fff",
      grid: { left: 0, right: 0, top: 0, bottom: 0 },
      xAxis: {
        type: "value", position: "top", min: 0, max: 1379, axisLine: { show: false }, axisLabel: { show: false }, splitLine: { show: false },
        axisTick: { show: true, inside: true, length: 4, customValues: topTicks, lineStyle: { color: "#aaa" } },
      },
      yAxis: {
        type: "value", position: "right", inverse: true, min: 0, max: 1381, axisLine: { show: false }, axisLabel: { show: false }, splitLine: { show: false },
        axisTick: { show: true, inside: true, length: 4, customValues: rightTicks, lineStyle: { color: "#aaa" } },
      },
      series: table.map(([name, color, pts]) => ({
        name, type: "scatter", data: pts, symbol: marker, symbolSize: [11.5, 20], itemStyle: { color, opacity: 1 }, silent: true, z: 2,
      })),
      graphic: labels.map(([t, x, y, s]) => ({
        type: "text", x, y, z: 100, silent: true,
        style: { text: t, fontSize: s, fontWeight: "bold", fontFamily: "Liberation Sans", fill: "#000", align: "center", verticalAlign: "middle" },
      })),
    });
    return () => chart.dispose();
  }, []);
  return <div ref={ref} style={{ width: 1379, height: 1381 }} />;
}
